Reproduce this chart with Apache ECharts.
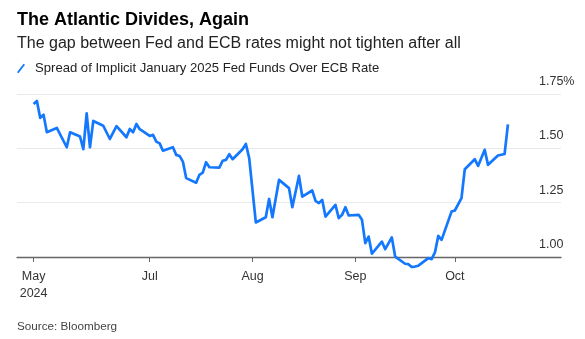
<!DOCTYPE html>
<html>
<head>
<meta charset="utf-8">
<style>
  html, body { margin: 0; padding: 0; background: #fff; }
  #chart { width: 585px; height: 339px; }
</style>
<script src="https://cdn.jsdelivr.net/npm/echarts@6/dist/echarts.min.js"></script>
</head>
<body>
<div id="chart"></div>
<script>
// Spread of implicit January 2025 Fed Funds over ECB rate (percentage points)
const dates = [
  '2024-05-27','2024-05-28','2024-05-29','2024-05-30','2024-05-31',
  '2024-06-03','2024-06-06','2024-06-07','2024-06-10','2024-06-11',
  '2024-06-12','2024-06-13','2024-06-14','2024-06-17','2024-06-19',
  '2024-06-21','2024-06-24','2024-06-25','2024-06-26','2024-06-27',
  '2024-06-28','2024-07-01','2024-07-02','2024-07-03','2024-07-04',
  '2024-07-05','2024-07-08','2024-07-09','2024-07-10','2024-07-11',
  '2024-07-12','2024-07-15','2024-07-16','2024-07-17','2024-07-18',
  '2024-07-19','2024-07-22','2024-07-23','2024-07-24','2024-07-25',
  '2024-07-26','2024-07-29','2024-07-30','2024-07-31','2024-08-02',
  '2024-08-05','2024-08-06','2024-08-07','2024-08-09','2024-08-12',
  '2024-08-13','2024-08-15','2024-08-16','2024-08-19','2024-08-20',
  '2024-08-21','2024-08-22','2024-08-23','2024-08-26','2024-08-27',
  '2024-08-28','2024-08-29','2024-08-30','2024-09-02','2024-09-03',
  '2024-09-04','2024-09-05','2024-09-06','2024-09-09','2024-09-10',
  '2024-09-12','2024-09-13','2024-09-16','2024-09-17','2024-09-18',
  '2024-09-19','2024-09-20','2024-09-23','2024-09-24','2024-09-25',
  '2024-09-26','2024-09-27','2024-09-30','2024-10-01','2024-10-03',
  '2024-10-04','2024-10-07','2024-10-08','2024-10-10','2024-10-11',
  '2024-10-14','2024-10-16','2024-10-17'
];
const spread = [
  1.704, 1.718, 1.640, 1.655, 1.574,
  1.594, 1.505, 1.574, 1.554, 1.496,
  1.661, 1.505, 1.626, 1.604, 1.543,
  1.602, 1.551, 1.589, 1.574, 1.612,
  1.588, 1.557, 1.562, 1.531, 1.523,
  1.489, 1.505, 1.470, 1.465, 1.439,
  1.363, 1.342, 1.378, 1.388, 1.436,
  1.413, 1.411, 1.443, 1.447, 1.473,
  1.450, 1.496, 1.520, 1.455, 1.159,
  1.183, 1.267, 1.183, 1.355, 1.317,
  1.229, 1.373, 1.278, 1.306, 1.258,
  1.248, 1.263, 1.186, 1.240, 1.179,
  1.194, 1.229, 1.191, 1.194, 1.171,
  1.064, 1.094, 1.015, 1.071, 1.036,
  1.090, 1.002, 0.969, 0.967, 0.954,
  0.956, 0.960, 0.995, 0.990, 1.021,
  1.097, 1.079, 1.209, 1.214, 1.271,
  1.404, 1.450, 1.419, 1.493, 1.424,
  1.467, 1.474, 1.610
];

// x-axis ticks and their labels
const tickDates = ['2024-05-27', '2024-07-01', '2024-08-01', '2024-09-01', '2024-10-01'];
const tickLabels = ['May\n2024', 'Jul', 'Aug', 'Sep', 'Oct'];

// y-axis range and labels
const yMin = 1.00, yMax = 1.75, yStep = 0.25;
const yTickLabels = { '1.00': '1.00', '1.25': '1.25', '1.50': '1.50', '1.75': '1.75%' };

const seriesName = 'Spread of Implicit January 2025 Fed Funds Over ECB Rate';
const blue = '#1478ff';
const font = '"Liberation Sans", Arial, sans-serif';

function ts(s) {
  const p = s.split('-').map(Number);
  return new Date(p[0], p[1] - 1, p[2]).getTime();
}
const tickTs = tickDates.map(ts);

const chart = echarts.init(document.getElementById('chart'), null, { renderer: 'canvas' });

chart.setOption({
  animation: false,
  backgroundColor: '#fff',
  textStyle: { fontFamily: font },
  title: [
    {
      text: 'The Atlantic Divides, Again',
      left: 17, top: 11, padding: 0,
      textStyle: { fontFamily: font, fontSize: 18, fontWeight: 'bold', color: '#000' }
    },
    {
      text: 'The gap between Fed and ECB rates might not tighten after all',
      left: 17, top: 36, padding: 0,
      textStyle: { fontFamily: font, fontSize: 16, fontWeight: 'normal', color: '#222' }
    },
    {
      text: 'Source: Bloomberg',
      left: 17, top: 321, padding: 0,
      textStyle: { fontFamily: font, fontSize: 11.7, fontWeight: 'normal', color: '#444' }
    }
  ],
  legend: {
    left: 17, top: 62, padding: 0,
    itemWidth: 8, itemHeight: 10,
    icon: 'path://M0,9 L7,0 L8.6,1.1 L1.6,10.1 Z',
    textStyle: { fontFamily: font, fontSize: 13.1, color: '#222', padding: [0, 0, 0, 5] },
    data: [seriesName]
  },
  grid: { left: 17, right: 24, top: 94, bottom: 82, containLabel: false },
  xAxis: {
    type: 'value',
    min: ts('2024-05-22'),
    max: ts('2024-11-02'),
    axisLine: { show: true, lineStyle: { color: '#666', width: 1.3 } },
    axisTick: { show: true, customValues: tickTs, length: 5, lineStyle: { color: '#666', width: 1 } },
    axisLabel: {
      customValues: tickTs,
      margin: 11,
      lineHeight: 17,
      fontSize: 12.5,
      color: '#333',
      fontFamily: font,
      hideOverlap: false,
      formatter: function (v) {
        let best = 0, bd = Infinity;
        tickTs.forEach(function (t, i) { const d = Math.abs(t - v); if (d < bd) { bd = d; best = i; } });
        return tickLabels[best];
      }
    },
    splitLine: { show: false }
  },
  yAxis: {
    type: 'value',
    position: 'right',
    min: yMin, max: yMax, interval: yStep,
    axisLine: { show: false },
    axisTick: { show: false },
    splitLine: { show: true, lineStyle: { color: '#e9e9e9', width: 1 } },
    axisLabel: {
      inside: true,
      align: 'left',
      margin: 22,
      verticalAlign: 'bottom',
      lineHeight: 25,
      fontSize: 12.5,
      color: '#333',
      fontFamily: font,
      formatter: function (v) { return yTickLabels[v.toFixed(2)] || v.toFixed(2); }
    }
  },
  series: [{
    name: seriesName,
    type: 'line',
    clip: false,
    symbol: 'none',
    itemStyle: { color: blue },
    lineStyle: { color: blue, width: 2.7, join: 'round' },
    data: dates.map(function (d, i) { return [ts(d), spread[i]]; })
  }]
});
</script>
</body>
</html>
